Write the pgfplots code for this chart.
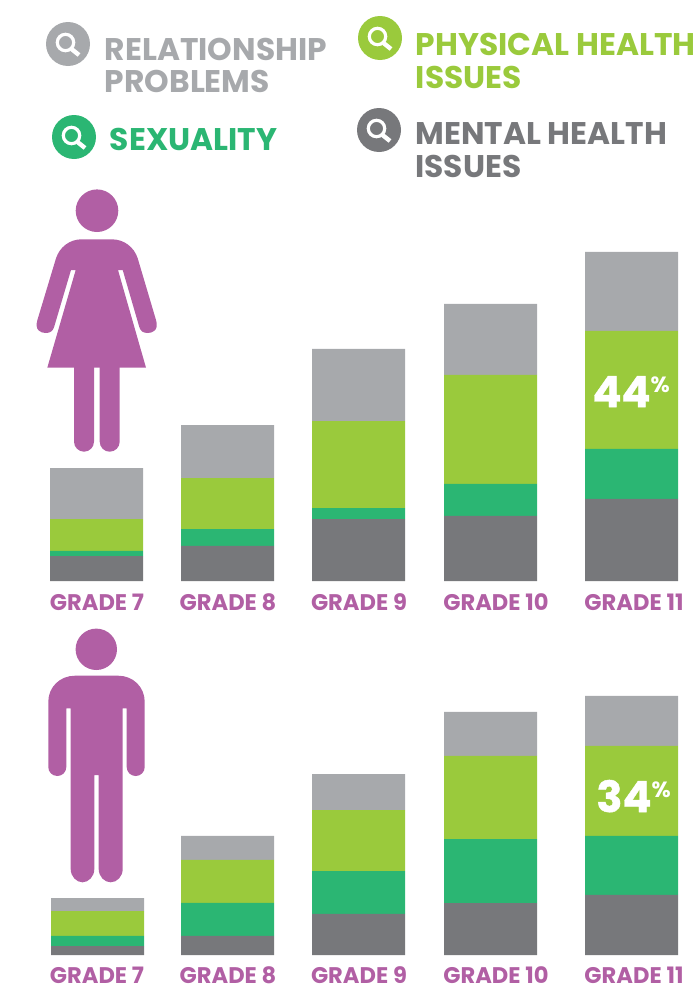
\documentclass[border=0pt]{standalone}
\usepackage{fontspec}
\setmainfont{Poppins}
\usepackage{pgfplots}
\usepackage{pgfplotstable}
\pgfplotsset{compat=1.18}
\definecolor{cgray}{HTML}{A7A9AC}
\definecolor{cgreen}{HTML}{9ACA3C}
\definecolor{cteal}{HTML}{2BB673}
\definecolor{cdark}{HTML}{77787B}
\definecolor{cpurple}{HTML}{B15FA4}
\pgfplotstableread{
x dark teal green gray
96.5 9.3 1.9 11.9 19.0
227.5 13.1 6.3 19.0 19.8
358.5 23.1 4.1 32.5 26.9
490.5 24.3 11.9 40.7 26.5
631.5 30.6 18.7 44.0 29.5
}\girls
\pgfplotstableread{
x dark teal green gray
97.5 3.4 3.8 9.4 4.9
227.5 7.2 12.5 16.2 9.1
358.5 15.5 16.2 23.0 13.6
490.5 19.6 24.2 31.4 16.6
631.5 22.7 22.3 34.0 18.9
}\boys
\pgfplotsset{panel/.style={
  scale only axis, width=346.5pt, xmin=0, xmax=693, ymin=0,
  anchor=south west, clip=false,
  axis line style={draw=none}, major tick length=0pt,
  ytick=\empty, xtick={97,228,359,496,634},
  xticklabels={GRADE 7,GRADE 8,GRADE 9,GRADE 10,GRADE 11},
  xticklabel style={anchor=base, inner sep=0pt, font=\fontsize{11.3pt}{12pt}\selectfont\bfseries, text=cpurple},
  ybar stacked, bar width=46.5pt,
}}
\newcommand{\glass}[3]{%
  \fill[#3] (#1,#2) circle (22);
  \draw[white,line width=1.6pt] (#1-2.5,#2-1.5) circle (8.2);
  \draw[white,line width=2.2pt] (#1+3.5,#2+5) -- (#1+11,#2+11);
}
\newcommand{\lab}[4]{\node[anchor=base west,inner sep=0pt,text=#4,font=\fontsize{15.65pt}{18pt}\selectfont\bfseries] at (#1,#2) {#3};}
\newcommand{\pct}[1]{{\addfontfeature{FakeBold=1}#1}\raisebox{7.5pt}[0pt][0pt]{\fontsize{11pt}{12pt}\selectfont\%}}
\begin{document}
\begin{tikzpicture}
\path[use as bounding box] (0,0) rectangle (346.5pt,-492.5pt);
\begin{scope}[x=0.5pt,y=-0.5pt]
\glass{68}{44}{cgray}
\glass{380}{38}{cgreen}
\glass{74}{137}{cteal}
\glass{379}{130}{cdark}
\lab{104.5}{60}{RELATIONSHIP}{cgray}
\lab{104.5}{92}{PROBLEMS}{cgray}
\lab{415.5}{55.5}{PHYSICAL HEALTH}{cgreen}
\lab{415.5}{88}{ISSUES}{cgreen}
\lab{109.5}{150}{SEXUALITY}{cteal}
\lab{415}{144.5}{MENTAL HEALTH}{cdark}
\lab{415}{177}{ISSUES}{cdark}
% woman
\fill[cpurple] (97,210.7) circle (21.3);
\fill[cpurple] (81.7,239.3) -- (111.7,239.3) .. controls (124,239.3) and (134,247) .. (137.7,258.3)
 -- (156,320) .. controls (159,330) and (153,333) .. (147.7,333) .. controls (143,333) and (140.5,331) .. (139.3,327)
 -- (122.7,270) -- (118,270) -- (146,367.7) -- (47.3,367.7) -- (75.7,270) -- (71,270)
 -- (54.1,327) .. controls (52.9,331) and (50.4,333) .. (45.7,333) .. controls (40.4,333) and (34.4,330) .. (37.4,320)
 -- (56,258.3) .. controls (59.7,247) and (69.7,239.3) .. (81.7,239.3) -- cycle;
\fill[cpurple] (74,367) -- (94,367) -- (94,441.7) .. controls (94,447.2) and (89.5,451.7) .. (84,451.7) .. controls (78.5,451.7) and (74,447.2) .. (74,441.7) -- cycle;
\fill[cpurple] (99.7,367) -- (119.7,367) -- (119.7,441.7) .. controls (119.7,447.2) and (115.2,451.7) .. (109.7,451.7) .. controls (104.2,451.7) and (99.7,447.2) .. (99.7,441.7) -- cycle;
% man
\fill[cpurple] (96.3,649.3) circle (20.7);
\fill[cpurple] (75,675.7) -- (118.3,675.7) .. controls (133,675.7) and (144.7,687) .. (144.7,701.7)
 -- (144.7,767) .. controls (144.7,772) and (140.7,776) .. (135.7,776) .. controls (130.7,776) and (126.7,772) .. (126.7,767)
 -- (126.7,708.3) -- (122.7,708.3) -- (122.7,869) .. controls (122.7,876.5) and (117,882.3) .. (110.7,882.3)
 .. controls (104.4,882.3) and (98.7,876.5) .. (98.7,869) -- (98.7,775) -- (94.3,775) -- (94.3,869)
 .. controls (94.3,876.5) and (88.6,882.3) .. (82.5,882.3) .. controls (76.4,882.3) and (70.7,876.5) .. (70.7,869)
 -- (70.7,708.3) -- (66.3,708.3) -- (66.3,767) .. controls (66.3,772) and (62.3,776) .. (57.3,776)
 .. controls (52.3,776) and (48.3,772) .. (48.3,767) -- (48.3,701.7) .. controls (48.3,687) and (60,675.7) .. (75,675.7) -- cycle;
\end{scope}
\begin{axis}[panel, at={(0pt,-290.5pt)}, height=167.5pt, ymax=125,
  xticklabel style={yshift=-14.5pt}]
\addplot[fill=cdark,draw=none] table[x=x,y=dark]{\girls};
\addplot[fill=cteal,draw=none] table[x=x,y=teal]{\girls};
\addplot[fill=cgreen,draw=none] table[x=x,y=green]{\girls};
\addplot[fill=cgray,draw=none] table[x=x,y=gray]{\girls};
\coordinate (lab44) at (axis cs:592,64.9);
\end{axis}
\node[anchor=base west,text=white,font=\bfseries\fontsize{21.5pt}{24pt}\selectfont,inner sep=0pt] at (lab44) {\pct{44}};
\begin{axis}[panel, at={(0pt,-477.5pt)}, height=139pt, ymax=105,
  xticklabel style={yshift=-14pt}]
\addplot[fill=cdark,draw=none] table[x=x,y=dark]{\boys};
\addplot[fill=cteal,draw=none] table[x=x,y=teal]{\boys};
\addplot[fill=cgreen,draw=none] table[x=x,y=green]{\boys};
\addplot[fill=cgray,draw=none] table[x=x,y=gray]{\boys};
\coordinate (lab34) at (axis cs:596,54);
\end{axis}
\node[anchor=base west,text=white,font=\bfseries\fontsize{21.5pt}{24pt}\selectfont,inner sep=0pt] at (lab34) {\pct{34}};
\end{tikzpicture}
\end{document}
